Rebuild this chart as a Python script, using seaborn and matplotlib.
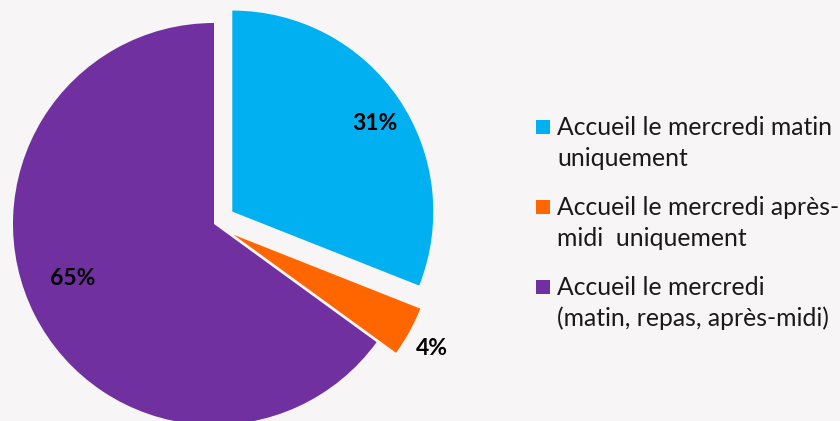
import matplotlib
matplotlib.use("Agg")
import matplotlib.pyplot as plt
from matplotlib.patches import Rectangle
import numpy as np
import seaborn as sns

categories = [
    "Accueil le mercredi matin\nuniquement",
    "Accueil le mercredi après-\nmidi  uniquement",
    "Accueil le mercredi\n(matin, repas, après-midi)",
]
shares = [31, 4, 65]
colors = ["#00B0F0", "#FF6600", "#7030A0"]
explode = [0.11, 0.11, 0.0]
# where each percentage sits: radial distance and small angular nudge
label_dist = [0.835, 1.14, 0.755]
label_shift = [-2.4, -0.9, -6.0]

BG = "#F7F5F6"

sns.set_theme(style="white")
plt.rcParams["font.family"] = ["Lato", "DejaVu Sans"]

W, H = 840, 421
fig = plt.figure(figsize=(W / 100, H / 100), dpi=100, facecolor=BG)

# pie centre at (214, 224) px from top, radius ~201 px
r_px = 201
half = 1.2
side = 2 * half * r_px
cx, cy = 214, H - 224
ax = fig.add_axes([(cx - side / 2) / W, (cy - side / 2) / H, side / W, side / H])
ax.set_facecolor(BG)

wedges, texts, autotexts = ax.pie(
    shares, colors=colors, explode=explode, startangle=90, counterclock=False,
    autopct="%d%%", pctdistance=0.8,
    textprops=dict(fontsize=16.5, fontweight="bold", color="black"),
    wedgeprops=dict(linewidth=0),
)
ax.set_xlim(-half, half)
ax.set_ylim(-half, half)
ax.set_aspect("equal")
ax.axis("off")

for w, t, ex, d, sh in zip(wedges, autotexts, explode, label_dist, label_shift):
    mid = np.deg2rad((w.theta1 + w.theta2) / 2)
    ang = mid + np.deg2rad(sh)
    t.set_position((ex * np.cos(mid) + d * np.cos(ang),
                    ex * np.sin(mid) + d * np.sin(ang)))

# legend, square aligned with the first line of each label
x_sq, x_txt = 536, 557
first_base = 135
line_gap = 31
step = 80
for i, (lab, col) in enumerate(zip(categories, colors)):
    base = first_base + i * step
    fig.patches.append(Rectangle((x_sq / W, 1 - (base - 1) / H), 14 / W, 14 / H,
                                 transform=fig.transFigure, color=col, lw=0))
    for j, line in enumerate(lab.split("\n")):
        fig.text(x_txt / W, 1 - (base + j * line_gap) / H, line, fontsize=17.8,
                 color="#1a1a1a", ha="left", va="baseline")

fig.savefig("out.png", dpi=100, facecolor=BG)
